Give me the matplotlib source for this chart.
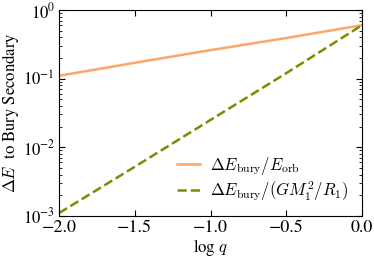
import matplotlib
matplotlib.use('Agg')
import matplotlib.pyplot as plt
import numpy as np

# values (log-log straight lines)
log_q = [-2.0, -1.5, -1.0, -0.5, 0.0]
de_orb = [0.11, 0.17, 0.26, 0.39, 0.60]
de_bind = [0.0011, 0.0052, 0.025, 0.12, 0.60]

plt.rcParams['font.family'] = 'STIXGeneral'
plt.rcParams['mathtext.fontset'] = 'cm'
plt.rcParams['font.size'] = 12

def ylab(v, pos):
    return r'$\mathregular{10^{%d}}$' % int(round(np.log10(v)))

def main():
    fig = plt.figure(figsize=(3.74, 2.62), dpi=100)
    ax = fig.add_axes([0.158, 0.176, 0.81, 0.786])
    ax.plot(log_q, de_orb, color='#fda667', lw=1.8,
            label=r'$\Delta E_{\rm bury}/E_{\rm orb}$')
    ax.plot(log_q, de_bind, color='#808a00', lw=1.8, ls='--',
            label=r'$\Delta E_{\rm bury}/(GM_1^2/R_1)$')
    ax.set_yscale('log')
    ax.set_xlim(-2, 0)
    ax.set_ylim(1e-3, 1)
    ax.set_xticks([-2.0, -1.5, -1.0, -0.5, 0.0])
    ax.set_xticklabels(['\u22122.0', '\u22121.5', '\u22121.0', '\u22120.5', '0.0'])
    ax.yaxis.set_major_formatter(matplotlib.ticker.FuncFormatter(ylab))
    ax.tick_params(which='both', direction='in', top=True, right=True)
    ax.tick_params(axis='x', labelsize=13, pad=3)
    ax.tick_params(axis='y', labelsize=12, pad=3)
    ax.tick_params(which='major', length=4)
    ax.tick_params(which='minor', length=2)
    ax.set_xlabel(r'log $q$', fontsize=12, labelpad=1)
    ax.set_ylabel(r'$\Delta E$  to Bury Secondary', fontsize=12)
    ax.yaxis.set_label_coords(-0.125, 0.5)
    ax.legend(loc='lower right', frameon=False, fontsize=12,
              handlelength=1.4, handletextpad=0.6, labelspacing=0.1,
              borderaxespad=0.4)
    fig.savefig('out.png', dpi=100)

if __name__ == "__main__":
    main()
